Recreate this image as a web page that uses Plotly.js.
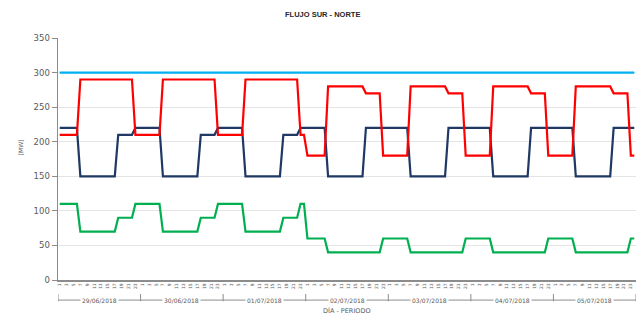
<!DOCTYPE html>
<html><head><meta charset="utf-8">
<script src="https://cdn.plot.ly/plotly-3.0.1.min.js"></script>
<style>html,body{margin:0;padding:0;background:#fff}</style>
</head><body><div id="chart" style="width:639px;height:316px"></div>
<script>
const days = ['29/06/2018','30/06/2018','01/07/2018','02/07/2018','03/07/2018','04/07/2018','05/07/2018'];
const periods = ['1','2','3','4','5','6','7','8','9','10','11','12','13','14','15','16','17','18','19','20','21','22','23','24'];
const shownPeriods = ['1','3','5','7','9','11','13','15','17','19','21','23'];

const limite = [
300,300,300,300,300,300,300,300,300,300,300,300,300,300,300,300,300,300,300,300,300,300,300,300,
300,300,300,300,300,300,300,300,300,300,300,300,300,300,300,300,300,300,300,300,300,300,300,300,
300,300,300,300,300,300,300,300,300,300,300,300,300,300,300,300,300,300,300,300,300,300,300,300,
300,300,300,300,300,300,300,300,300,300,300,300,300,300,300,300,300,300,300,300,300,300,300,300,
300,300,300,300,300,300,300,300,300,300,300,300,300,300,300,300,300,300,300,300,300,300,300,300,
300,300,300,300,300,300,300,300,300,300,300,300,300,300,300,300,300,300,300,300,300,300,300,300,
300,300,300,300,300,300,300,300,300,300,300,300,300,300,300,300,300,300,300,300,300,300,300,300];

const rojo = [
210,210,210,210,210,210,290,290,290,290,290,290,290,290,290,290,290,290,290,290,290,290,210,210,
210,210,210,210,210,210,290,290,290,290,290,290,290,290,290,290,290,290,290,290,290,290,210,210,
210,210,210,210,210,210,290,290,290,290,290,290,290,290,290,290,290,290,290,290,290,290,210,210,
180,180,180,180,180,180,280,280,280,280,280,280,280,280,280,280,280,270,270,270,270,270,180,180,
180,180,180,180,180,180,280,280,280,280,280,280,280,280,280,280,280,270,270,270,270,270,180,180,
180,180,180,180,180,180,280,280,280,280,280,280,280,280,280,280,280,270,270,270,270,270,180,180,
180,180,180,180,180,180,280,280,280,280,280,280,280,280,280,280,280,270,270,270,270,270,180,180];

const azul = [
220,220,220,220,220,220,150,150,150,150,150,150,150,150,150,150,150,210,210,210,210,210,220,220,
220,220,220,220,220,220,150,150,150,150,150,150,150,150,150,150,150,210,210,210,210,210,220,220,
220,220,220,220,220,220,150,150,150,150,150,150,150,150,150,150,150,210,210,210,210,210,220,220,
220,220,220,220,220,220,150,150,150,150,150,150,150,150,150,150,150,220,220,220,220,220,220,220,
220,220,220,220,220,220,150,150,150,150,150,150,150,150,150,150,150,220,220,220,220,220,220,220,
220,220,220,220,220,220,150,150,150,150,150,150,150,150,150,150,150,220,220,220,220,220,220,220,
220,220,220,220,220,220,150,150,150,150,150,150,150,150,150,150,150,220,220,220,220,220,220,220];

const verde = [
110,110,110,110,110,110,70,70,70,70,70,70,70,70,70,70,70,90,90,90,90,90,110,110,
110,110,110,110,110,110,70,70,70,70,70,70,70,70,70,70,70,90,90,90,90,90,110,110,
110,110,110,110,110,110,70,70,70,70,70,70,70,70,70,70,70,90,90,90,90,90,110,110,
60,60,60,60,60,60,40,40,40,40,40,40,40,40,40,40,40,40,40,40,40,40,60,60,
60,60,60,60,60,60,40,40,40,40,40,40,40,40,40,40,40,40,40,40,40,40,60,60,
60,60,60,60,60,60,40,40,40,40,40,40,40,40,40,40,40,40,40,40,40,40,60,60,
60,60,60,60,60,60,40,40,40,40,40,40,40,40,40,40,40,40,40,40,40,40,60,60];

const N = days.length * periods.length;
const xs = [];
for (let i = 0; i < N; i++) xs.push(i + 1);

const tickvals = [], ticktext = [];
days.forEach((d, di) => {
  periods.forEach((p, pi) => {
    if (shownPeriods.includes(p)) { tickvals.push(di * periods.length + pi + 1); ticktext.push(p); }
  });
});

function tr(y, color) {
  return {x: xs, y: y, type: 'scatter', mode: 'lines', line: {color: color, width: 2.2}, hoverinfo: 'skip', showlegend: false};
}
const data = [tr(limite, '#00B0F0'), tr(azul, '#1F3864'), tr(rojo, '#FF0000'), tr(verde, '#00B050')];

const gray = '#8c8c8c';
const txt = '#595959';
const shapes = [];
const annotations = [];
const yBr = -0.083;
shapes.push({type: 'line', xref: 'x', yref: 'paper', x0: 0.5, x1: N + 0.5, y0: yBr, y1: yBr, line: {color: gray, width: 1}});
for (let d = 0; d <= days.length; d++) {
  const xv = d * periods.length + 0.5;
  shapes.push({type: 'line', xref: 'x', yref: 'paper', x0: xv, x1: xv, y0: -0.058, y1: -0.088, line: {color: gray, width: 1}});
}
days.forEach((d, di) => {
  annotations.push({xref: 'x', yref: 'paper', x: di * periods.length + periods.length / 2 + 0.5, y: yBr,
    text: d, showarrow: false, yanchor: 'middle', xanchor: 'center', bgcolor: '#ffffff', borderpad: 1,
    font: {family: 'DejaVu Sans', size: 6, color: txt}});
});
annotations.push({xref: 'paper', yref: 'paper', x: 0.5, y: -0.124, text: 'DÍA - PERIODO', showarrow: false,
  yanchor: 'middle', font: {family: 'DejaVu Sans', size: 6.5, color: txt}});
annotations.push({xref: 'paper', yref: 'paper', x: -0.065, y: 0.55, text: '[MW]', showarrow: false, textangle: -90,
  xanchor: 'center', yanchor: 'middle', font: {family: 'DejaVu Sans', size: 6, color: txt}});

const layout = {
  width: 639, height: 316,
  margin: {l: 58, r: 3, t: 38, b: 36},
  paper_bgcolor: '#ffffff', plot_bgcolor: '#ffffff',
  title: {text: '<b>FLUJO SUR - NORTE</b>', x: 0.505, xanchor: 'center', y: 0.955, yanchor: 'middle',
    font: {family: 'Liberation Sans', size: 7.5, color: '#262626'}},
  xaxis: {range: [0.5, N + 0.5], tickmode: 'array', tickvals: tickvals, ticktext: ticktext, tickangle: -90,
    tickfont: {family: 'DejaVu Sans', size: 4.5, color: txt}, showgrid: false, zeroline: false,
    showline: true, linecolor: gray, linewidth: 1.5, ticks: '', ticklen: 0},
  yaxis: {range: [0, 350], dtick: 50, tickfont: {family: 'DejaVu Sans', size: 8.5, color: txt},
    showgrid: true, gridcolor: '#e4e4e4', gridwidth: 1, zeroline: false,
    showline: true, linecolor: gray, linewidth: 1.5, ticks: 'outside', ticklen: 5, tickcolor: gray},
  shapes: shapes, annotations: annotations
};
Plotly.newPlot('chart', data, layout, {staticPlot: true, displayModeBar: false});
</script></body></html>
